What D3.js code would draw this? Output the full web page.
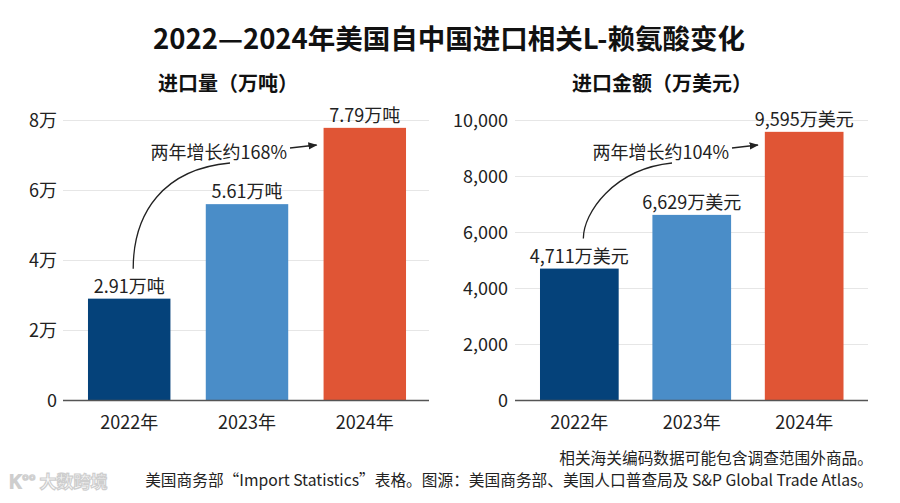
<!DOCTYPE html>
<html><head><meta charset="utf-8">
<script src="https://cdn.jsdelivr.net/npm/d3@7"></script>
<style>
html,body{margin:0;padding:0;background:#fff;}
svg{display:block;font-family:"Noto Sans CJK SC","Noto Sans",sans-serif;}
</style></head>
<body><svg id="c" width="900" height="503"></svg>
<script>
const categories = ["2022年", "2023年", "2024年"];
const volume = [2.91, 5.61, 7.79];          // 万吨
const amount = [4711, 6629, 9595];          // 万美元
const volumeTicks = [0, 2, 4, 6, 8];
const amountTicks = [0, 2000, 4000, 6000, 8000, 10000];
const colors = ["#05427a", "#4a8dc8", "#e05535"];
const title = "2022—2024年美国自中国进口相关L-赖氨酸变化";
const subtitles = ["进口量（万吨）", "进口金额（万美元）"];
const notes = ["相关海关编码数据可能包含调查范围外商品。",
  "美国商务部“Import Statistics”表格。图源：美国商务部、美国人口普查局及 S&P Global Trade Atlas。"];

const svg = d3.select("#c");
svg.append("rect").attr("width", 900).attr("height", 503).attr("fill", "#fff");

svg.append("defs").append("marker").attr("id", "ah")
  .attr("viewBox", "0 0 10 10").attr("refX", 9).attr("refY", 5)
  .attr("markerWidth", 7).attr("markerHeight", 7).attr("orient", "auto")
  .append("path").attr("d", "M0,1 L10,5 L0,9 Z").attr("fill", "#222");

svg.append("text").attr("x", 449).attr("y", 37).attr("text-anchor", "middle")
  .attr("dominant-baseline", "central").attr("font-size", 27.5).attr("font-weight", 700)
  .attr("fill", "#111").text(title);

function panel(cfg) {
  const g = svg.append("g");
  const y = d3.scaleLinear().domain(cfg.domain).range([400.5, 120.5]);
  const x = d3.scaleBand().domain(categories).range(cfg.xr).paddingInner(0.3).paddingOuter(0.1);

  g.append("text").attr("x", cfg.subX).attr("y", 82).attr("text-anchor", "middle")
    .attr("dominant-baseline", "central").attr("font-size", 20).attr("font-weight", 700)
    .attr("fill", "#111").text(cfg.subtitle);

  // grid
  g.selectAll(".grid").data(cfg.ticks.filter(t => t > 0)).join("line")
    .attr("x1", cfg.gx[0]).attr("x2", cfg.gx[1])
    .attr("y1", d => y(d)).attr("y2", d => y(d))
    .attr("stroke", "#e6e6e6").attr("stroke-width", 1);

  // y axis labels
  const ya = d3.axisLeft(y).tickValues(cfg.ticks).tickFormat(cfg.tickFmt).tickSize(0).tickPadding(0);
  const yg = g.append("g").attr("transform", `translate(${cfg.labelX},0)`).call(ya);
  yg.select(".domain").remove();
  yg.selectAll("text").attr("font-size", 18).attr("fill", "#222")
    .attr("font-family", '"Noto Sans CJK SC","Noto Sans",sans-serif');

  // bars
  g.selectAll(".bar").data(cfg.values).join("rect")
    .attr("x", (d, i) => x(categories[i])).attr("width", x.bandwidth())
    .attr("y", d => y(d)).attr("height", d => y(0) - y(d))
    .attr("fill", (d, i) => colors[i]);

  // baseline
  g.append("line").attr("x1", cfg.gx[0]).attr("x2", cfg.gx[1])
    .attr("y1", y(0)).attr("y2", y(0)).attr("stroke", "#555").attr("stroke-width", 1.5);

  // x axis labels
  const xa = d3.axisBottom(x).tickSize(0).tickPadding(0);
  const xg = g.append("g").attr("transform", `translate(0,${y(0)})`).call(xa);
  xg.select(".domain").remove();
  xg.selectAll("text").attr("font-size", 18).attr("fill", "#222").attr("dy", null)
    .attr("y", 20).attr("dominant-baseline", "central")
    .attr("font-family", '"Noto Sans CJK SC","Noto Sans",sans-serif');

  // value labels
  g.selectAll(".vl").data(cfg.values).join("text")
    .attr("x", (d, i) => x(categories[i]) + x.bandwidth() / 2)
    .attr("y", d => y(d) - 14).attr("text-anchor", "middle")
    .attr("dominant-baseline", "central").attr("font-size", 18).attr("fill", "#222")
    .text(cfg.valFmt);

  // growth annotation
  const v = cfg.values;
  const growth = Math.round((v[2] / v[0] - 1) * 100);
  const c0 = x(categories[0]) + x.bandwidth() / 2 + cfg.curveDx;
  const yStart = y(v[0]) - 30;
  const tx = cfg.annX, ty = 151;
  g.append("text").attr("x", tx).attr("y", ty).attr("text-anchor", "end")
    .attr("dominant-baseline", "central").attr("font-size", 18).attr("fill", "#222")
    .text(`两年增长约${growth}%`);
  const ex = tx - 57, ey = ty + 12;
  g.append("path")
    .attr("d", `M${c0},${yStart} C${c0},${ey + 50} ${c0 + 30},${ey + 6} ${ex},${ey}`)
    .attr("fill", "none").attr("stroke", "#222").attr("stroke-width", 1.3);
  const bx = x(categories[2]);
  g.append("line").attr("x1", tx + 3).attr("y1", ty - 3).attr("x2", bx - 7).attr("y2", ty - 6)
    .attr("stroke", "#222").attr("stroke-width", 1.3).attr("marker-end", "url(#ah)");
}

panel({
  domain: [0, 8], ticks: volumeTicks, values: volume, xr: [76.2, 417.8], gx: [63, 429],
  labelX: 57, subX: 228, subtitle: subtitles[0], annX: 287, curveDx: 4,
  tickFmt: d => d === 0 ? "0" : d + "万",
  valFmt: d => d3.format(".2f")(d) + "万吨"
});
panel({
  domain: [0, 10000], ticks: amountTicks, values: amount, xr: [528.75, 854.75], gx: [515, 868],
  labelX: 508, subX: 662, subtitle: subtitles[1], annX: 729, curveDx: 4,
  tickFmt: d3.format(","),
  valFmt: d => d3.format(",")(d) + "万美元"
});

// footnotes
svg.append("text").attr("x", 873).attr("y", 457).attr("text-anchor", "end")
  .attr("dominant-baseline", "central").attr("font-size", 15.7).attr("fill", "#222").text(notes[0]);
svg.append("text").attr("x", 873).attr("y", 479).attr("text-anchor", "end")
  .attr("dominant-baseline", "central").attr("font-size", 15.7).attr("fill", "#222").text(notes[1]);

// watermark
const wm = svg.append("g").attr("opacity", 0.9);
wm.append("text").attr("x", 10).attr("y", 480).attr("dominant-baseline", "central")
  .attr("font-size", 17).attr("font-weight", 700).attr("fill", "#fff")
  .attr("stroke", "#c9c9c9").attr("stroke-width", 1.2).text("Ꮶ°° 大数跨境");
</script></body></html>
